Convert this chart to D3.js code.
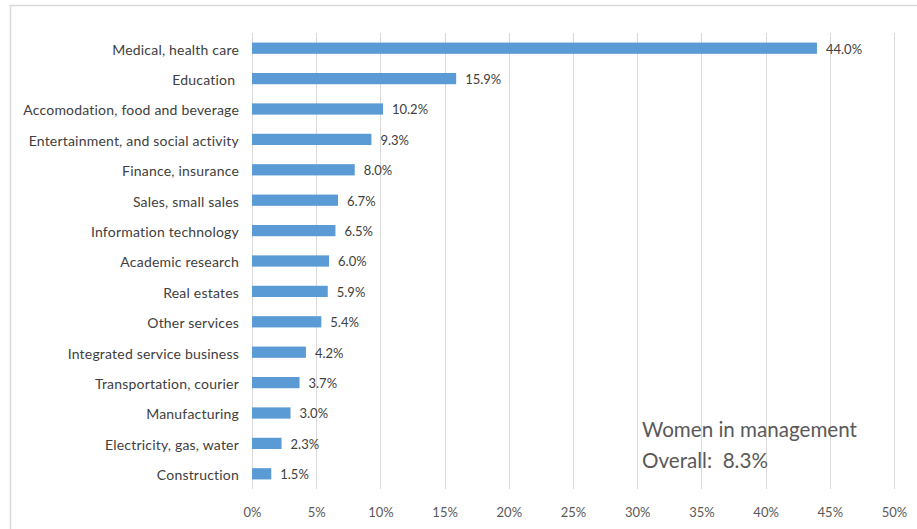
<!DOCTYPE html>
<html>
<head>
<meta charset="utf-8">
<script src="https://cdn.jsdelivr.net/npm/d3@7"></script>
<style>
  html, body { margin: 0; padding: 0; background: #fff; }
  svg { display: block; font-family: Lato, "Open Sans", sans-serif; }
</style>
</head>
<body>
<svg id="chart" width="917" height="529"></svg>
<script>
const categories = [
  "Medical, health care",
  "Education ",
  "Accomodation, food and beverage",
  "Entertainment, and social activity",
  "Finance, insurance",
  "Sales, small sales",
  "Information technology",
  "Academic research",
  "Real estates",
  "Other services",
  "Integrated service business",
  "Transportation, courier",
  "Manufacturing",
  "Electricity, gas, water",
  "Construction"
];
const values = [44.0, 15.9, 10.2, 9.3, 8.0, 6.7, 6.5, 6.0, 5.9, 5.4, 4.2, 3.7, 3.0, 2.3, 1.5];
const xTicks = [0, 5, 10, 15, 20, 25, 30, 35, 40, 45, 50];
const annotationLines = ["Women in management", "Overall:  8.3%"];

(function () {
const svg = d3.select("#chart");
const plotLeft = 252, plotRight = 894, plotTop = 33, plotBottom = 489;

// outer chart frame (cut by image edge)
svg.append("rect")
  .attr("x", 10.5).attr("y", 5.5)
  .attr("width", 940).attr("height", 560)
  .attr("fill", "none").attr("stroke", "#d9d9d9").attr("stroke-width", 1.5);

const x = d3.scaleLinear().domain([0, 50]).range([plotLeft, plotRight]);
const y = d3.scaleBand().domain(categories).range([plotTop, plotBottom]).paddingInner(0.63).paddingOuter(0.315);

// gridlines
svg.append("g").selectAll("line").data(xTicks).join("line")
  .attr("x1", d => Math.round(x(d)) + 0.5).attr("x2", d => Math.round(x(d)) + 0.5)
  .attr("y1", plotTop).attr("y2", plotBottom)
  .attr("stroke", "#d9d9d9").attr("stroke-width", 1);

// x axis labels
const xAxis = d3.axisBottom(x).tickValues(xTicks).tickFormat(d => d + "%").tickSize(0).tickPadding(0);
const gx = svg.append("g").attr("transform", `translate(0,${plotBottom + 19})`).call(xAxis);
gx.select(".domain").remove();
gx.selectAll("text").attr("fill", "#595959").attr("font-size", 13).attr("font-family", "Lato, sans-serif");

// y axis labels
const yAxis = d3.axisLeft(y).tickSize(0).tickPadding(0);
const gy = svg.append("g").attr("transform", `translate(239,0)`).call(yAxis);
gy.select(".domain").remove();
gy.selectAll("text")
  .attr("fill", "#404040").attr("font-size", 14).attr("font-family", "Lato, sans-serif")
  .attr("letter-spacing", 0.2).attr("dy", "0.45em")
  .style("white-space", "pre");

// bars
svg.append("g").selectAll("rect").data(values).join("rect")
  .attr("x", x(0))
  .attr("y", (d, i) => y(categories[i]))
  .attr("width", d => x(d) - x(0))
  .attr("height", y.bandwidth())
  .attr("fill", "#5b9bd5");

// value labels
svg.append("g").selectAll("text").data(values).join("text")
  .attr("x", d => x(d) + 9)
  .attr("y", (d, i) => y(categories[i]) + y.bandwidth() / 2)
  .attr("dy", "0.42em")
  .attr("fill", "#404040")
  .attr("font-size", 13)
  .text(d => d.toFixed(1) + "%");

// annotation
svg.append("g").selectAll("text").data(annotationLines).join("text")
  .attr("x", 642)
  .attr("y", (d, i) => 437 + i * 31)
  .attr("fill", "#595959")
  .attr("font-size", 20.6)
  .style("white-space", "pre")
  .text(d => d);
})();
</script>
</body>
</html>
